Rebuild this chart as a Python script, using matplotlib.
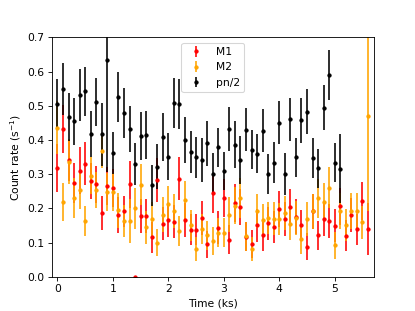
import numpy as np
import matplotlib
matplotlib.use('Agg')
import matplotlib.pyplot as plt

# time bins (ks)
time = [0.0, 0.1, 0.2, 0.3, 0.4, 0.5, 0.6, 0.7, 0.8, 0.9,
        1.0, 1.1, 1.2, 1.3, 1.4, 1.5, 1.6, 1.7, 1.8, 1.9,
        2.0, 2.1, 2.2, 2.3, 2.4, 2.5, 2.6, 2.7, 2.8, 2.9,
        3.0, 3.1, 3.2, 3.3, 3.4, 3.5, 3.6, 3.7, 3.8, 3.9,
        4.0, 4.1, 4.2, 4.3, 4.4, 4.5, 4.6, 4.7, 4.8, 4.9,
        5.0, 5.1, 5.2, 5.3, 5.4, 5.5, 5.6]

m1 = [0.317, 0.432, 0.341, 0.275, 0.310, 0.330, 0.281, 0.270, 0.186, 0.265,
      0.259, 0.180, 0.192, 0.270, 0.000, 0.178, 0.178, 0.116, 0.283, 0.155,
      0.166, 0.161, 0.287, 0.166, 0.138, 0.138, 0.172, 0.095, 0.245, 0.144,
      0.230, 0.109, 0.216, 0.204, 0.117, 0.096, 0.150, 0.121, 0.157, 0.145,
      0.198, 0.169, 0.205, 0.176, 0.150, 0.088, 0.191, 0.121, 0.169, 0.162,
      0.149, 0.206, 0.120, 0.181, 0.139, 0.222, 0.140]
m1_err = [0.070, 0.070, 0.060, 0.058, 0.068, 0.063, 0.053, 0.053, 0.050, 0.055,
          0.055, 0.052, 0.045, 0.068, 0.000, 0.050, 0.050, 0.045, 0.063, 0.048,
          0.050, 0.048, 0.062, 0.050, 0.045, 0.045, 0.050, 0.040, 0.058, 0.048,
          0.056, 0.042, 0.055, 0.052, 0.043, 0.040, 0.048, 0.045, 0.048, 0.047,
          0.052, 0.050, 0.052, 0.050, 0.046, 0.040, 0.052, 0.043, 0.050, 0.050,
          0.048, 0.055, 0.045, 0.050, 0.046, 0.055, 0.075]

m2 = [0.436, 0.218, 0.337, 0.231, 0.254, 0.163, 0.296, 0.254, 0.369, 0.248,
      0.248, 0.194, 0.163, 0.163, 0.200, 0.269, 0.145, 0.169, 0.100, 0.182,
      0.212, 0.192, 0.134, 0.224, 0.150, 0.080, 0.140, 0.121, 0.105, 0.129,
      0.129, 0.182, 0.208, 0.230, 0.118, 0.080, 0.192, 0.165, 0.172, 0.170,
      0.169, 0.187, 0.153, 0.173, 0.110, 0.170, 0.191, 0.229, 0.218, 0.260,
      0.092, 0.193, 0.152, 0.193, 0.193, 0.159, 0.471]
m2_err = [0.078, 0.055, 0.065, 0.058, 0.056, 0.045, 0.053, 0.053, 0.050, 0.055,
          0.055, 0.050, 0.048, 0.065, 0.060, 0.060, 0.048, 0.050, 0.040, 0.050,
          0.053, 0.050, 0.045, 0.055, 0.045, 0.035, 0.045, 0.042, 0.040, 0.042,
          0.042, 0.050, 0.055, 0.058, 0.042, 0.035, 0.050, 0.048, 0.048, 0.048,
          0.048, 0.050, 0.046, 0.050, 0.042, 0.050, 0.052, 0.058, 0.055, 0.060,
          0.040, 0.052, 0.046, 0.052, 0.052, 0.048, 0.280]

# pn is shown divided by 2, and stops at 5.1 ks
pn_half = [0.506, 0.549, 0.468, 0.454, 0.531, 0.542, 0.418, 0.511, 0.416, 0.635,
           0.362, 0.526, 0.479, 0.432, 0.330, 0.412, 0.414, 0.268, 0.322, 0.409,
           0.351, 0.507, 0.504, 0.400, 0.364, 0.349, 0.341, 0.390, 0.300, 0.378,
           0.310, 0.432, 0.386, 0.342, 0.430, 0.371, 0.360, 0.427, 0.300, 0.333,
           0.451, 0.300, 0.460, 0.349, 0.458, 0.483, 0.347, 0.317, 0.494, 0.590,
           0.334, 0.316]
pn_half_err = [0.072, 0.077, 0.070, 0.068, 0.075, 0.071, 0.067, 0.069, 0.093, 0.330,
               0.062, 0.074, 0.074, 0.068, 0.061, 0.071, 0.071, 0.060, 0.066, 0.070,
               0.068, 0.073, 0.073, 0.067, 0.061, 0.061, 0.064, 0.066, 0.061, 0.058,
               0.055, 0.063, 0.068, 0.070, 0.062, 0.057, 0.057, 0.063, 0.058, 0.060,
               0.063, 0.061, 0.064, 0.056, 0.066, 0.065, 0.058, 0.057, 0.066, 0.072,
               0.057, 0.100]

fig = plt.figure(figsize=(415 / 77, 311 / 77), dpi=77)
ax = fig.add_subplot(111)

ax.errorbar(time, m1, yerr=m1_err, fmt='.', color='red', label='M1')
ax.errorbar(time, m2, yerr=m2_err, fmt='.', color='orange', label='M2')
ax.errorbar(time[:len(pn_half)], pn_half, yerr=pn_half_err, fmt='.',
            color='black', label='pn/2')

ax.set_xlim(-0.1, 5.7)
ax.set_ylim(0, 0.7)
ax.set_xlabel('Time (ks)')
ax.set_ylabel('Count rate (s$^{-1}$)')
ax.legend(loc='upper center')

fig.savefig('out.png')
